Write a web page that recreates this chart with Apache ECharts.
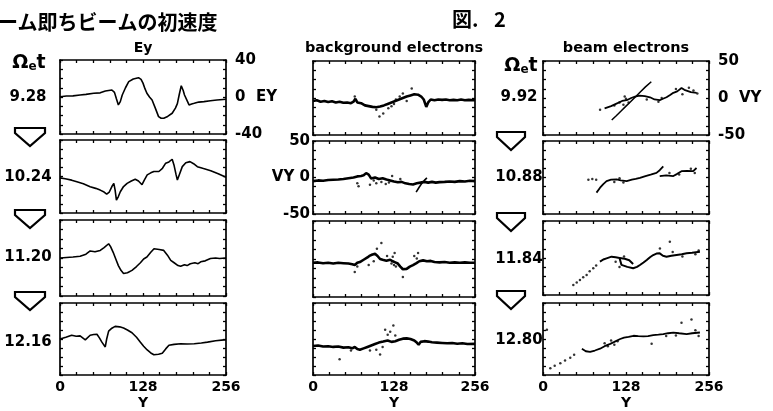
<!DOCTYPE html>
<html>
<head>
<meta charset="utf-8">
<script src="https://cdn.jsdelivr.net/npm/echarts@6/dist/echarts.min.js"></script>
<style>
  html, body { margin: 0; padding: 0; background: #fff; }
  #main { width: 773px; height: 411px; }
</style>
</head>
<body>
<div id="main"></div>
<script>
// time labels (Ωet) of each row
var timesLeft = ['9.28', '10.24', '11.20', '12.16'];
var timesRight = ['9.92', '10.88', '11.84', '12.80'];
var xTicks = [0, 128, 256];

// Ey(Y) at the four times
var ey1 = [[0,0.3],[10,1],[20,1.2],[31,2.2],[40,2.8],[52,4],[62,4.5],[70,6.5],[80,7.6],[84,5],[87,-2],[90,-8.6],[93,-5],[96,2.2],[101,10],[106,16.6],[113,19.5],[121,20.9],[125,19],[128,15],[131,9],[134,4],[138,0],[142,-3.2],[147,-12],[152,-21.2],[156,-23],[160,-23],[166,-21],[173,-17.6],[178,-12],[181,-7.2],[184,3],[187,12.2],[190,7],[192,2.2],[196,-4],[199,-8.6],[203,-7.5],[207,-6.8],[214,-5.5],[222,-5],[232,-4],[242,-3.2],[256,-2.5]];
var ey2 = [[0,-1.5],[8,-2.5],[18,-4],[26,-5.7],[36,-8],[46.5,-11.2],[55,-13],[62,-14.9],[68,-17],[72,-19.3],[76,-17],[80,-11],[83,-7.5],[85,-15],[87,-25.9],[90,-22],[93,-16.7],[98,-11],[103.5,-7.5],[110,-5],[116,-3],[121,-5],[126.5,-9],[130,-4],[134.5,1.8],[140,4],[144.8,5.5],[152.5,5.5],[158,9],[163,14.6],[168,16],[173,18.9],[176,12],[179,2],[181,-3.8],[184,2],[188.6,10.8],[194,15],[200.5,16.3],[206,14],[211.8,10.8],[220,9],[232.5,6.4],[244,3],[256,-0.9]];
var ey3 = [[0,0],[10,0.5],[20,1],[31,1.8],[40,4],[46.5,7.4],[54,6.5],[62,8],[68,11],[75,15],[78,12],[82,6],[86,-1],[90,-8],[94,-13],[98,-16.4],[104,-15.5],[111,-13],[118,-9],[124,-5],[129,-1],[134,1],[140,6],[145,9.8],[153,9],[160,8],[165.7,3],[170.8,-2.5],[176,-5],[182,-8],[186,-8.7],[192,-7],[196,-8],[201,-6],[208,-5],[213,-6],[217,-4],[224,-3],[232,-0.6],[240,0],[246,-0.5],[256,0]];
var ey4 = [[0,0],[9,2],[18,4.2],[25,3],[31,3.5],[39,-1],[46.5,4.2],[52,5],[57,5.3],[61,1],[64.6,-3.5],[69.8,-8.8],[72,0],[75,8.7],[80,12],[85,14],[92,13.5],[98,12.2],[104,10],[111,7],[118,2],[124,-3.5],[129,-8],[134.5,-12.2],[140,-15.5],[144.8,-17.5],[152,-17],[157.7,-15.8],[163,-11],[168,-7],[176,-6],[186,-5.2],[196,-5.5],[207,-5.2],[218,-4.5],[227.5,-3.5],[240,-2],[253,-1],[256,-1]];

// background electrons: main band and stray particles (Y, VY)
var bg1 = [[0,-4],[6,-3],[12,-5],[18,-4],[24,-5.5],[30,-4.5],[36,-6],[42,-5],[48,-6.5],[54,-6],[60,-7],[64,-5],[67,-1],[70,-6],[76,-7],[82,-10],[88,-11],[94,-12],[100,-12.5],[106,-11.5],[112,-10],[118,-8],[124,-6],[130,-4],[136,-2],[142,0],[148,2],[154,3.5],[160,5],[166,4.5],[171,2],[175,-2],[179,-12],[182,-6],[186,-2],[192,-3],[198,-2],[204,-2.5],[210,-2],[216,-3],[222,-2.5],[228,-3],[234,-2],[240,-3],[246,-2.5],[256,-3]];
var bg1Dots = [[105,-25],[111,-21],[156,13],[119,-14],[128,-8],[137,2],[142,6],[66,2],[100,-16],[148,-4],[124,-11],[131,-2]];
var bg2 = [[0,-5],[8,-4],[16,-4.5],[24,-3.5],[32,-3],[40,-2.7],[48,-2],[56,-1],[64,0],[70,1.5],[76,2],[80,3],[84,6],[86,8.5],[88,4],[92,-1.5],[98,0],[104,-2],[110,-1],[116,-2.7],[122,-4],[128,-5.5],[134,-6.5],[140,-6],[146,-8],[152,-9],[158,-9.5],[164,-8],[170,-7],[176,-6],[182,-7],[188,-6],[194,-7],[200,-6.3],[208,-6],[216,-5.5],[224,-6],[232,-5],[240,-5.5],[248,-4.5],[256,-5]];
var bg2Slash = [[163,-20],[168,-13],[172,-8],[176,-4],[180,-0.5]];
var bg2Dots = [[90,-10],[100,-8],[108,-6],[115,-9],[125,2],[70,-8],[72,-12],[138,-2],[96,-4],[120,-7]];
var bg3 = [[0,-5],[8,-4.5],[16,-5.5],[24,-5],[32,-6],[40,-5],[48,-5.5],[56,-6],[62,-7],[66,-8],[70,-5],[74,-4],[80,-1],[86,2],[90,4.5],[94,6],[98,6.75],[102,4],[106,0],[110,-1],[116,-2.3],[122,-1],[126,-3],[130,-4.5],[134,-6],[138,-10],[142,-13.5],[148,-13],[153,-10],[158,-8],[163.5,-5.4],[168,-3],[174,-1.8],[180,-3],[186,-2.5],[192,-4],[200,-4.5],[208,-4],[216,-5],[224,-4.5],[232,-5],[240,-4.5],[248,-5],[256,-5]];
var bg3Dots = [[108,21],[101,13.5],[129,8],[126,3],[128,-8],[131,-10],[124,-6],[66,-17],[142,-23.6],[166,8],[164,0.5],[160,4],[88,-8],[96,-3],[117,4],[70,-10]];
var bg4 = [[0,-9.7],[8,-9],[16,-10.5],[24,-10],[32,-11],[40,-10.5],[48,-12],[56,-11.5],[62,-13],[66,-11],[70,-14],[74,-15],[80,-13],[86,-11],[92,-9],[98,-7],[104,-5],[111,-3.6],[118,-2],[124,-4],[130,-3],[136,-1],[142,0.5],[148,0.9],[154,0],[160,-2],[164,-5],[167,-8],[170,-4],[176,-3],[182,-3.6],[188,-4.5],[196,-5],[204,-5.5],[212,-6],[220,-5.5],[228,-6.5],[236,-6],[244,-7],[256,-6.75]];
var bg4Dots = [[127,18.9],[114,13],[106,-21.6],[42,-28],[100,-15],[110,-11],[118,6],[122,10],[90,-16],[130,5],[60,-16]];

// beam electrons: curves and dotted particles (Y, VY)
var bm1Line = [[106,-29.7],[113,-24],[120,-18],[128,-11],[135,-5],[142,1],[150,8],[158,15],[167,22]];
var bm1Wave = [[95,-14],[105,-11],[115,-7],[122,-4],[129,-3],[136,0],[142,2],[149,3.2],[157,2.5],[165,1],[172,-2],[180,-3],[185,-1],[190.5,1],[196,4],[201,7],[207,9],[213.6,13.5],[218,11],[221,9],[228,8],[237,7]];
var bm1Dots = [[118,-6],[124,-9],[128,-1],[132,-6],[126,2],[178,-5],[183,0],[205,12],[215,5],[225,14],[232,10],[238,6],[88,-16],[110,-10],[160,-2]];
var bm2Line = [[82.5,-20.7],[88,-14],[93,-9],[98,-5],[105,-3],[113.5,-2.7],[120,-4],[129,-5],[137,-3],[143,-2],[149.5,-0.5],[158,2],[166,4],[175,6.3],[180,10],[185.5,15.3]];
var bm2Wave = [[180,2],[190,3],[201,2],[207,5],[213.6,8.7],[222,9],[231.6,8.7],[236.8,13]];
var bm2Dots = [[70,-3],[76,-2],[82,-3],[110,-6],[118,-1],[124,-7],[195,6],[210,4],[228,12],[234,6]];
var bm3Line = [[87.8,-5],[93,-2],[98,-0.5],[105.7,1.8],[112,1],[118,0],[121,-9.3],[130,-12],[139,-13.9],[145,-12],[149.5,-9.5],[155,-6],[160,-2.7],[165,1],[170,4],[175,6],[180,6.3],[185,3],[190.5,1.8],[198,3],[206,4],[214,5],[221.5,6.3],[230,7],[242,8.5]];
var bm3Box = [[118,0],[126,-1],[133,-3],[139,-8]];
var bm3Dots = [[46.7,-36.4],[52,-33],[57,-29.7],[62,-26],[67.3,-23],[72,-18],[77.5,-14],[82,-10],[195.6,22],[180.3,13],[112,-5],[118,-12],[125,2],[200,8],[215,2],[235,5],[240,10]];
var bm4Line = [[60,-13.5],[66,-17],[72.6,-18],[80,-16],[88,-13.5],[95,-10],[103.7,-6.75],[110,-4],[119,0],[125,2],[132,3],[139.6,4.5],[147,4],[155,3.6],[162,4],[170,5.4],[178,6],[185.5,6.75],[193,8],[201,9],[210,8],[221.5,6.75],[230,8],[242,9]];
var bm4Dots = [[6,13],[11.3,-40.5],[18,-37],[26.7,-33.8],[34,-30],[42,-26],[48,-22],[229,27],[213.6,22.5],[167.5,-6.75],[100,-10],[105,-2],[110,-8],[115,-3],[95,-6],[190,4],[205,5],[235,12],[240,4]];

var chart = echarts.init(document.getElementById('main'));
var FONT = 'DejaVu Sans';

// panel boxes: Ey column, background column, beam column
var boxes = [
  [60, 60, 166, 74], [60, 140, 166, 73], [60, 220, 166, 76], [60, 303, 166, 76],
  [313, 61, 162, 74], [313, 141, 162, 73], [313, 221, 162, 76], [313, 303, 162, 75],
  [543, 61, 166, 74], [543, 141, 166, 73], [543, 221, 166, 74], [543, 303, 166, 74]
];

var grids = [], xAxes = [], yAxes = [], series = [];

function tickCfg(split) {
  return {
    axisLine: {show: true, onZero: false, lineStyle: {color: '#000', width: 1.7}},
    axisTick: {show: true, inside: true, length: 3, lineStyle: {color: '#000', width: 1.3}},
    minorTick: {show: true, splitNumber: split, length: 3, lineStyle: {color: '#000', width: 1.3}},
    splitLine: {show: false}
  };
}

boxes.forEach(function (b, i) {
  var col = Math.floor(i / 4), row = i % 4;
  grids.push({left: b[0], top: b[1], width: b[2], height: b[3], containLabel: false});
  var bottom = row === 3;
  ['bottom', 'top'].forEach(function (pos) {
    var ax = Object.assign({
      type: 'value', gridIndex: i, position: pos, min: xTicks[0], max: xTicks[2], interval: xTicks[1],
      axisLabel: {show: pos === 'bottom' && bottom, color: '#000', fontFamily: FONT,
        fontWeight: 'bold', fontSize: 14, margin: 5}
    }, tickCfg(5));
    if (pos === 'bottom' && bottom) {
      ax.name = 'Y';
      ax.nameLocation = 'middle';
      ax.nameGap = 21;
      ax.nameTextStyle = {color: '#000', fontFamily: FONT, fontWeight: 'bold', fontSize: 14};
    }
    xAxes.push(ax);
  });
  var lim = col === 0 ? 40 : 50;
  var tag = col === 0 ? 'EY' : 'VY';
  ['left', 'right'].forEach(function (pos) {
    var show = (col === 0 && row === 0 && pos === 'right') ||
               (col === 2 && row === 0 && pos === 'right') ||
               (col === 1 && row === 1 && pos === 'left');
    yAxes.push(Object.assign({
      type: 'value', gridIndex: i, position: pos, min: -lim, max: lim, interval: lim,
      axisLabel: {show: show, color: '#000', fontFamily: FONT, fontWeight: 'bold',
        fontSize: 15, margin: pos === 'right' ? 9 : 3,
        formatter: function (v) {
          if (v === 0) return pos === 'right' ? '0  ' + tag : tag + ' 0';
          return String(v);
        }}
    }, tickCfg(4)));
  });
});

function addLine(i, data, w) {
  series.push({type: 'line', xAxisIndex: 2 * i, yAxisIndex: 2 * i, data: data,
    showSymbol: false, symbol: 'none', animation: false, silent: true,
    lineStyle: {color: '#000', width: w || 1.6}});
}
function addDots(i, data, s) {
  series.push({type: 'scatter', xAxisIndex: 2 * i, yAxisIndex: 2 * i, data: data,
    symbolSize: s || 2.5, animation: false, silent: true, itemStyle: {color: '#000'}});
}

addLine(0, ey1); addLine(1, ey2); addLine(2, ey3); addLine(3, ey4);
addLine(4, bg1, 2.6); addDots(4, bg1Dots);
addLine(5, bg2, 2.6); addLine(5, bg2Slash, 1.6); addDots(5, bg2Dots);
addLine(6, bg3, 2.6); addDots(6, bg3Dots);
addLine(7, bg4, 2.6); addDots(7, bg4Dots);
addLine(8, bm1Line, 1.5); addLine(8, bm1Wave, 1.8); addDots(8, bm1Dots);
addLine(9, bm2Line, 1.8); addLine(9, bm2Wave, 1.8); addDots(9, bm2Dots);
addLine(10, bm3Line, 2); addLine(10, bm3Box, 2); addDots(10, bm3Dots);
addLine(11, bm4Line, 1.8); addDots(11, bm4Dots);

// texts and arrows
var graphics = [];
function txt(x, y, s, size, align, family, weight) {
  graphics.push({type: 'text', x: x, y: y, silent: true, style: {
    text: s, fill: '#000', fontSize: size, fontFamily: family || FONT,
    fontWeight: weight || 'bold', align: align || 'center', verticalAlign: 'middle'}});
}
function omega(x, y) {
  graphics.push({type: 'text', x: x, y: y, silent: true, style: {
    text: '{a|Ω}{b|e}{a|t}', align: 'center', verticalAlign: 'middle', fill: '#000',
    rich: {a: {fontSize: 19, fontWeight: 'bold', fontFamily: FONT, fill: '#000', verticalAlign: 'bottom'},
           b: {fontSize: 12, fontWeight: 'bold', fontFamily: FONT, fill: '#000', verticalAlign: 'bottom'}}}});
}
function arrow(x, y, w) {
  var h = 18;
  graphics.push({type: 'polygon', silent: true, shape: {points: [
    [x, y], [x + w, y], [x + w, y + 5], [x + w / 2, y + h], [x, y + 5]]},
    style: {fill: '#fff', stroke: '#000', lineWidth: 2.2}});
}

txt(-2, 22, 'ーム即ちビームの初速度', 20, 'left', 'Noto Sans CJK JP', 'bold');
txt(452, 19, '図.', 20, 'left', 'Noto Sans CJK JP', 'bold');
txt(494, 19, '2', 20, 'left', 'Noto Sans CJK JP', 'bold');
txt(143, 48, 'Ey', 14);
txt(394, 48, 'background electrons', 14.5);
txt(626, 48, 'beam electrons', 14.5);
omega(29, 63);
omega(521, 66);
var rowY = [97, 177, 257, 342];
var rowYr = [97, 177, 259, 340];
timesLeft.forEach(function (t, k) { txt(28, rowY[k], t, 15); });
timesRight.forEach(function (t, k) { txt(519, rowYr[k], t, 15); });
[128, 210, 292].forEach(function (y) { arrow(15, y, 30); });
[132, 213, 291].forEach(function (y) { arrow(497, y, 28); });

chart.setOption({
  backgroundColor: '#fff',
  animation: false,
  grid: grids,
  xAxis: xAxes,
  yAxis: yAxes,
  series: series,
  graphic: graphics
});
</script>
</body>
</html>
